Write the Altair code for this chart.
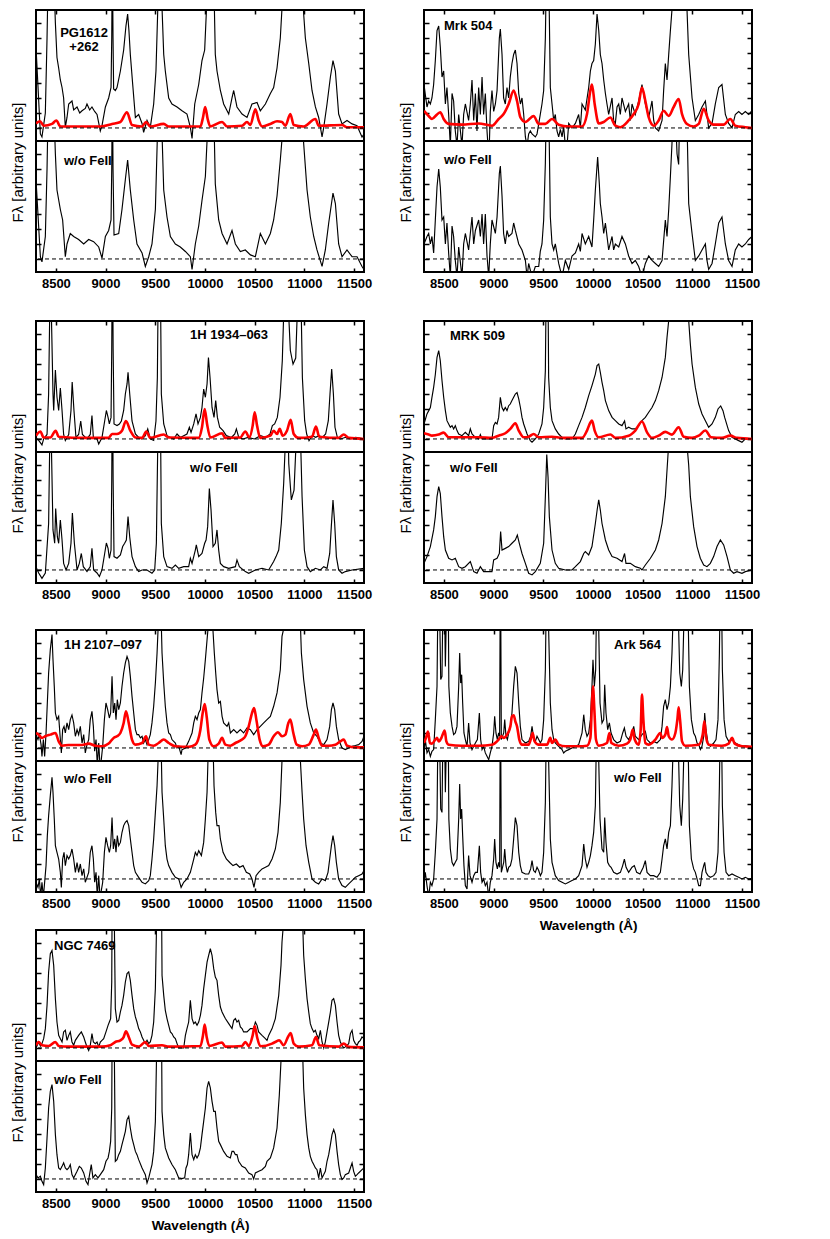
import altair as alt
import pandas as pd

# ---------------- data (wavelength in Angstrom, flux in arbitrary units) ----------------
PG1612_TOP = [(8300,5.4),(8344,-0.4),(8360,-0.6),(8394,1.0),(8411,6.0),(8427,12),(8444,14),(8470,12),(8495,7.0),(8511,4.7),(8528,4.0),(8545,3.2),(8562,2.7),(8578,2.0),(8595,0.05),(8612,0.7),(8629,1.6),(8662,1.8),(8679,1.2),(8713,1.4),(8740,1.0),(8763,1.15),(8796,1.3),(8813,1.6),(8840,1.2),(8863,1.4),(8890,1.1),(8914,0.9),(8947,-0.2),(8964,0.15),(8998,1.4),(9031,2.0),(9055,2.7),(9062,6),(9068,12),(9075,6),(9081,2.6),(9098,2.5),(9115,2.7),(9149,3.8),(9182,5.2),(9205,6.8),(9222,7.6),(9235,6.5),(9249,4.9),(9273,2.9),(9300,0.7),(9333,0.9),(9367,0.3),(9383,-0.3),(9417,0.5),(9450,0.04),(9484,1.6),(9507,3.8),(9525,7.9),(9545,15),(9568,8),(9585,4.9),(9601,3.8),(9635,2.0),(9668,1.6),(9719,1.4),(9769,1.15),(9819,0.93),(9853,0.04),(9870,-0.7),(9897,1.6),(9937,2.9),(9970,4.5),(9997,5.2),(10015,7.9),(10050,14),(10095,7.9),(10104,4.9),(10121,3.8),(10155,2.5),(10188,1.6),(10239,0.93),(10272,2.0),(10289,2.5),(10322,1.4),(10373,0.93),(10423,0.7),(10473,1.6),(10524,1.7),(10557,1.15),(10608,1.6),(10658,2.3),(10691,2.7),(10725,4.0),(10758,6.0),(10775,8),(10850,15),(10940,15),(10993,7.6),(11010,6.0),(11044,4.3),(11077,2.5),(11111,1.4),(11144,0.7),(11178,-0.6),(11195,0.04),(11228,1.6),(11262,3.4),(11288,4.5),(11312,3.8),(11345,0.93),(11379,0.27),(11429,0.5),(11480,0.27),(11530,0.15),(11580,-0.6),(11600,-0.4)]
PG1612_BOT = [(8300,5.3),(8344,0.15),(8360,-0.2),(8394,1.5),(8411,6),(8427,12),(8444,14),(8470,12),(8495,7.0),(8511,4.6),(8545,3.3),(8568,2.6),(8595,0.15),(8612,1.0),(8645,1.7),(8679,1.5),(8729,1.3),(8780,1.0),(8830,1.3),(8880,1.15),(8931,0.8),(8964,0.05),(8998,1.5),(9031,1.9),(9055,2.6),(9062,6),(9068,12),(9075,6),(9085,1.6),(9132,1.7),(9165,3.3),(9199,5.3),(9222,6.6),(9249,4.6),(9283,2.6),(9316,1.0),(9367,0.4),(9400,-0.5),(9434,0.15),(9467,1.0),(9501,3.3),(9520,7.9),(9545,15),(9570,7.9),(9585,4.6),(9618,2.8),(9652,1.5),(9702,1.0),(9752,0.8),(9803,0.5),(9853,0.15),(9870,-0.7),(9903,1.0),(9937,2.2),(9970,3.9),(10004,5.5),(10021,7.9),(10050,14),(10095,7.9),(10104,5.0),(10138,2.6),(10172,1.7),(10222,1.0),(10272,1.9),(10306,1.0),(10356,0.5),(10406,0.6),(10457,0.27),(10507,0.15),(10557,1.7),(10608,1.0),(10658,1.7),(10691,2.6),(10725,4.2),(10758,6.6),(10775,8),(10850,15),(10940,15),(10993,7.7),(11027,4.6),(11060,2.8),(11094,1.5),(11127,0.6),(11178,-0.5),(11211,0.6),(11245,2.4),(11288,4.4),(11312,3.7),(11345,1.0),(11379,0.15),(11429,0.6),(11480,0.15),(11530,0.15),(11580,-0.5),(11600,-0.7)]
PG1612_FE = [(8300,0.3),(8340,0.45),(8377,0.15),(8461,0.27),(8505,0.5),(8545,0.1),(8796,0.1),(8950,0.1),(9065,0.27),(9149,0.4),(9215,1.05),(9266,0.2),(9367,0.1),(9407,0.4),(9450,0.1),(9585,0.27),(9635,0.1),(9954,0.1),(9980,0.7),(10002,1.4),(10027,0.6),(10054,0.1),(10172,0.4),(10222,0.1),(10373,0.15),(10423,0.4),(10457,0.2),(10507,1.25),(10540,0.5),(10574,0.1),(10658,0.27),(10725,0.45),(10775,0.4),(10809,0.15),(10859,0.93),(10893,0.2),(10993,0.1),(11111,0.6),(11144,0.15),(11379,0.2),(11429,0.05),(11600,0.05)]

MRK504_TOP = [(8300,2.9),(8330,1.4),(8347,1.8),(8364,1.6),(8380,2.0),(8397,2.9),(8414,4.5),(8431,6.5),(8448,6.8),(8464,5.4),(8481,3.4),(8498,3.8),(8515,1.6),(8531,2.7),(8548,0.9),(8565,-1.2),(8582,2.3),(8598,1.8),(8615,-0.2),(8632,-1.2),(8649,0.9),(8682,-1.2),(8699,0.9),(8716,1.6),(8749,0.5),(8766,1.6),(8783,3.2),(8800,0.5),(8817,2.3),(8833,-0.2),(8850,2.7),(8867,0.9),(8884,3.4),(8900,0.9),(8917,2.3),(8934,-0.2),(8944,-1.2),(8957,-1.2),(8967,1.1),(8984,2.5),(9001,1.1),(9018,1.6),(9035,2.5),(9058,6.0),(9068,6.6),(9085,4.9),(9101,2.0),(9118,1.6),(9135,2.7),(9152,2.0),(9168,3.4),(9185,4.3),(9202,4.9),(9219,5.2),(9236,4.3),(9253,2.3),(9270,1.6),(9286,2.0),(9303,0.9),(9320,-0.6),(9337,-1.2),(9353,-0.4),(9370,-0.2),(9387,-0.4),(9420,-0.6),(9437,-0.4),(9470,0.9),(9487,1.6),(9504,2.5),(9521,6.0),(9535,12),(9548,12),(9560,7.9),(9571,2.7),(9588,1.6),(9605,0.5),(9621,0.9),(9638,-0.2),(9655,-0.6),(9672,-0.1),(9689,-0.6),(9705,0.1),(9722,-1.2),(9739,-1.2),(9756,0.3),(9789,0.0),(9823,0.3),(9856,0.9),(9873,0.0),(9890,1.6),(9923,1.2),(9957,2.7),(9974,3.8),(9990,4.3),(10007,4.5),(10024,5.6),(10041,7.6),(10058,6.5),(10074,4.9),(10091,4.3),(10108,3.2),(10125,2.3),(10141,1.6),(10158,0.9),(10192,2.0),(10208,0.5),(10225,0.3),(10242,1.4),(10259,1.6),(10275,0.9),(10292,2.0),(10326,1.1),(10359,1.6),(10376,0.5),(10393,1.6),(10426,0.9),(10460,1.8),(10493,2.9),(10527,1.6),(10561,0.7),(10594,1.8),(10611,0.5),(10628,0.0),(10661,-0.2),(10695,0.5),(10711,2.5),(10728,4.3),(10745,3.2),(10762,4.9),(10779,6.5),(10795,7.9),(10830,14),(10900,14),(10946,7.9),(10963,4.9),(10997,2.0),(11030,0.5),(11064,0.9),(11097,1.4),(11131,1.8),(11147,0.9),(11164,0.0),(11198,0.3),(11231,1.6),(11265,2.7),(11298,2.9),(11332,0.9),(11365,0.3),(11399,0.0),(11432,0.9),(11466,1.1),(11499,0.9),(11533,1.1),(11567,0.9),(11600,1.15)]
MRK504_BOT = [(8300,1.0),(8330,1.5),(8347,1.7),(8364,1.0),(8380,1.5),(8397,0.4),(8414,2.6),(8431,4.8),(8448,6.0),(8464,4.8),(8481,2.6),(8498,2.8),(8515,1.0),(8531,2.4),(8548,0.4),(8565,-1.2),(8582,2.2),(8598,1.5),(8615,-0.1),(8632,-1.2),(8649,0.8),(8682,-1.2),(8699,1.0),(8716,1.7),(8749,0.6),(8783,2.8),(8800,1.0),(8817,1.9),(8850,2.6),(8867,1.5),(8884,3.0),(8900,1.0),(8917,3.0),(8934,0.2),(8951,-1.2),(8967,1.0),(8984,2.6),(9018,1.7),(9035,2.8),(9058,5.7),(9068,6.2),(9085,4.2),(9101,1.7),(9118,1.0),(9135,1.9),(9152,1.5),(9185,1.7),(9202,2.4),(9219,1.9),(9253,1.0),(9286,0.6),(9320,-0.1),(9337,-1.2),(9353,-0.3),(9387,-1.2),(9420,-0.5),(9454,-0.5),(9470,0.5),(9487,1.0),(9504,2.6),(9521,6.4),(9535,12),(9548,12),(9560,7.9),(9571,2.8),(9588,1.0),(9605,0.6),(9621,1.0),(9655,-0.3),(9689,-1.2),(9722,-0.1),(9756,-0.7),(9789,0.2),(9823,0.4),(9856,1.0),(9873,0.5),(9890,1.7),(9923,1.0),(9957,1.5),(9990,0.8),(10007,2.6),(10024,4.6),(10047,6.8),(10064,5.0),(10074,3.7),(10091,2.8),(10108,1.7),(10125,2.4),(10158,0.6),(10192,1.5),(10208,0.6),(10225,1.0),(10259,0.8),(10292,1.5),(10326,1.0),(10359,0.2),(10393,-0.3),(10426,-0.1),(10460,-0.5),(10493,-1.2),(10527,-0.3),(10561,0.2),(10594,-0.1),(10628,-0.3),(10661,-0.5),(10695,-0.1),(10728,2.6),(10745,1.5),(10762,3.3),(10779,5.5),(10795,7.7),(10815,12),(10846,7.0),(10862,6.3),(10880,12),(10929,12),(10950,7.9),(10963,3.7),(10997,1.7),(11030,-0.1),(11064,0.2),(11097,0.6),(11131,1.0),(11147,-0.1),(11164,-0.7),(11198,-0.3),(11231,1.0),(11265,2.4),(11298,2.8),(11332,1.0),(11365,-0.1),(11399,-0.5),(11432,0.6),(11466,1.0),(11499,0.8),(11533,1.0),(11567,1.3),(11600,1.5)]
MRK504_FE = [(8300,1.15),(8347,0.8),(8380,0.6),(8431,0.9),(8464,1.05),(8498,0.6),(8548,0.27),(8682,0.22),(8850,0.3),(8984,0.15),(9051,0.6),(9101,0.93),(9152,1.6),(9202,2.5),(9236,1.8),(9270,0.7),(9320,0.4),(9403,0.8),(9454,0.27),(9521,0.27),(9588,0.6),(9655,0.22),(9756,0.1),(9890,0.1),(9940,0.93),(9974,2.5),(9990,2.9),(10017,1.6),(10058,0.3),(10108,0.4),(10175,0.7),(10225,0.15),(10275,0.05),(10359,0.5),(10410,0.93),(10460,1.6),(10493,2.7),(10527,1.8),(10561,0.7),(10611,0.15),(10661,0.5),(10711,1.15),(10762,0.8),(10812,1.4),(10862,1.93),(10896,0.93),(10946,0.27),(11013,0.1),(11064,0.27),(11114,1.27),(11164,0.5),(11214,0.22),(11315,0.22),(11382,0.6),(11432,0.15),(11533,0.05),(11600,0.0)]

H1934_TOP = [(8300,0.1),(8327,-0.1),(8360,-0.4),(8377,0.0),(8411,0.3),(8427,3.0),(8437,7.9),(8446,14),(8456,7.9),(8471,3.0),(8478,1.9),(8495,4.6),(8511,2.8),(8528,1.9),(8545,3.4),(8562,1.9),(8578,0.3),(8595,-0.1),(8612,0.1),(8629,0.3),(8652,1.9),(8664,3.8),(8682,1.9),(8702,0.1),(8729,0.3),(8750,1.2),(8767,0.3),(8813,0.0),(8846,0.3),(8863,1.56),(8877,0.1),(8914,0.0),(8931,-0.33),(8964,0.1),(8991,1.2),(9008,1.9),(9025,1.44),(9038,1.0),(9055,1.44),(9062,6),(9069,14),(9076,6),(9085,1.0),(9115,0.9),(9139,1.0),(9159,1.2),(9182,1.9),(9199,3.0),(9216,3.67),(9226,4.44),(9243,3.0),(9266,1.2),(9300,0.33),(9333,0.1),(9367,0.0),(9400,0.22),(9424,0.67),(9450,0.0),(9484,-0.1),(9507,1.2),(9521,4.1),(9535,14),(9555,7.9),(9561,3.0),(9585,1.0),(9618,0.22),(9652,0.1),(9685,0.0),(9719,0.33),(9752,0.1),(9786,0.22),(9819,0.33),(9843,0.78),(9860,0.44),(9887,1.0),(9910,1.67),(9930,1.0),(9954,1.44),(9970,2.1),(9987,3.33),(10004,2.78),(10021,3.67),(10035,5.44),(10051,4.1),(10071,2.1),(10091,1.44),(10108,2.56),(10125,1.44),(10148,0.78),(10182,0.56),(10215,0.22),(10266,0.1),(10300,0.33),(10316,0.67),(10340,0.1),(10383,0.0),(10433,0.1),(10497,0.0),(10560,0.22),(10611,0.1),(10655,0.33),(10678,0.89),(10701,1.0),(10728,1.44),(10755,2.78),(10778,5.22),(10790,7.9),(10820,14),(10845,7.9),(10859,5.9),(10886,5.0),(10913,5.4),(10926,7.9),(10945,14),(10970,7.9),(10980,4.1),(11003,1.22),(11023,0.33),(11047,-0.11),(11080,0.22),(11114,0.11),(11147,0.22),(11181,0.11),(11214,0.33),(11241,1.22),(11258,3.0),(11275,4.67),(11292,3.0),(11308,0.78),(11332,0.11),(11365,0.0),(11415,0.11),(11466,0.0),(11516,0.11),(11600,0.0)]
H1934_BOT = [(8300,0.2),(8327,-0.2),(8360,-0.56),(8394,-0.2),(8427,3.1),(8437,7.9),(8446,14),(8456,7.9),(8471,2.67),(8488,1.78),(8498,4.1),(8515,2.2),(8528,1.78),(8545,3.33),(8562,2.0),(8578,0.44),(8602,0.0),(8629,0.44),(8652,1.78),(8666,3.8),(8686,1.78),(8713,0.0),(8736,0.44),(8756,1.1),(8776,0.22),(8813,-0.1),(8846,0.22),(8863,1.44),(8880,0.0),(8914,-0.2),(8938,-0.44),(8964,0.0),(8991,1.1),(9008,1.8),(9025,1.44),(9038,0.78),(9055,1.33),(9062,6),(9069,14),(9076,6),(9085,0.89),(9115,0.78),(9149,1.0),(9172,1.56),(9192,1.78),(9209,2.0),(9226,3.56),(9243,2.2),(9266,0.89),(9300,0.22),(9333,-0.1),(9367,0.0),(9417,0.0),(9467,-0.22),(9494,0.0),(9511,1.78),(9524,7.9),(9537,14),(9555,7.9),(9561,3.1),(9585,0.89),(9618,0.22),(9668,0.11),(9702,0.33),(9736,0.11),(9786,0.22),(9836,0.22),(9853,0.78),(9870,0.44),(9903,1.33),(9913,1.67),(9937,0.89),(9970,1.1),(9997,1.78),(10011,2.0),(10027,2.89),(10044,5.44),(10061,4.0),(10081,1.56),(10104,1.78),(10121,2.67),(10138,1.33),(10155,0.44),(10188,0.22),(10239,0.11),(10306,0.22),(10322,0.67),(10346,0.22),(10406,-0.11),(10440,-0.22),(10507,0.0),(10574,0.11),(10641,0.0),(10691,0.56),(10715,0.89),(10742,1.33),(10768,3.1),(10792,5.78),(10805,7.9),(10825,14),(10843,7.1),(10869,4.67),(10896,5.33),(10913,7.9),(10940,14),(10965,7.9),(10977,4.89),(11000,1.33),(11027,0.22),(11060,-0.11),(11111,0.11),(11161,0.0),(11195,0.22),(11228,0.11),(11255,1.1),(11271,2.89),(11288,4.67),(11305,3.1),(11322,0.89),(11345,0.0),(11379,-0.22),(11412,-0.11),(11480,0.0),(11600,0.11)]
H1934_FE = [(8300,0.22),(8344,0.5),(8377,0.1),(8444,0.1),(8498,0.55),(8528,0.15),(8796,0.07),(9031,0.07),(9065,0.33),(9115,0.33),(9165,0.55),(9205,1.2),(9249,0.55),(9300,0.1),(9367,0.07),(9410,0.5),(9450,0.07),(9585,0.3),(9635,0.1),(9937,0.07),(9970,0.78),(9997,2.0),(10021,1.0),(10054,0.1),(10172,0.38),(10205,0.07),(10356,0.1),(10406,0.5),(10447,0.1),(10480,0.89),(10500,1.78),(10524,0.89),(10557,0.07),(10658,0.22),(10691,0.55),(10725,0.33),(10752,0.67),(10782,0.22),(10825,0.55),(10862,1.27),(10893,0.33),(10943,0.07),(11077,0.15),(11117,0.82),(11150,0.15),(11345,0.07),(11396,0.3),(11446,0.07),(11600,0.0)]

MRK509_TOP = [(8300,1.0),(8330,1.67),(8364,2.1),(8380,2.78),(8397,3.44),(8414,4.3),(8431,5.44),(8448,5.9),(8464,5.22),(8481,3.9),(8498,2.78),(8515,1.89),(8531,1.22),(8548,1.0),(8565,0.78),(8582,0.89),(8598,0.67),(8615,0.89),(8632,0.56),(8649,0.33),(8682,0.22),(8716,0.44),(8749,0.22),(8766,0.67),(8783,0.33),(8817,0.11),(8850,0.0),(8867,0.29),(8884,0.0),(8951,0.0),(8984,0.0),(9001,0.89),(9018,1.1),(9035,1.0),(9051,1.44),(9068,2.78),(9085,2.1),(9101,1.89),(9118,2.1),(9135,1.89),(9152,2.22),(9168,2.33),(9185,2.56),(9202,2.78),(9219,3.0),(9236,3.1),(9253,2.67),(9270,2.1),(9286,1.44),(9303,1.0),(9337,0.33),(9370,-0.11),(9387,-0.22),(9420,0.0),(9454,0.33),(9487,1.0),(9504,2.1),(9521,4.56),(9535,14),(9550,7.9),(9554,4.1),(9571,2.1),(9588,1.22),(9621,0.67),(9655,0.33),(9689,0.11),(9722,0.0),(9789,0.0),(9823,0.33),(9856,0.89),(9890,1.44),(9923,2.1),(9957,2.89),(9990,3.56),(10024,4.33),(10041,4.9),(10058,5.0),(10074,4.44),(10091,3.78),(10108,3.22),(10125,2.56),(10158,1.89),(10192,1.44),(10225,1.22),(10259,1.0),(10292,0.89),(10318,1.2),(10332,0.67),(10359,0.78),(10393,0.67),(10426,0.67),(10460,0.89),(10493,1.22),(10527,1.44),(10561,1.78),(10594,2.1),(10628,2.56),(10661,3.22),(10695,4.1),(10728,5.44),(10745,6.78),(10762,7.9),(10850,16),(10963,7.9),(10980,6.3),(10997,5.0),(11030,3.44),(11064,2.33),(11097,1.67),(11131,1.22),(11164,0.78),(11198,1.0),(11231,1.44),(11258,2.0),(11285,2.2),(11308,1.89),(11325,1.44),(11365,0.56),(11399,0.11),(11432,0.0),(11466,-0.11),(11499,-0.22),(11516,-0.11),(11533,0.0),(11600,0.0)]
MRK509_BOT = [(8300,0.44),(8330,0.89),(8364,1.56),(8397,2.67),(8414,3.56),(8431,4.89),(8448,5.56),(8464,5.1),(8481,3.56),(8498,2.22),(8515,1.33),(8548,0.78),(8582,0.67),(8615,0.78),(8649,0.22),(8682,0.11),(8716,0.22),(8766,0.56),(8800,-0.11),(8833,-0.22),(8867,0.22),(8900,-0.11),(8951,-0.11),(8984,-0.11),(9001,0.67),(9035,0.78),(9058,1.1),(9071,2.56),(9085,1.33),(9118,1.44),(9152,1.56),(9185,1.78),(9219,2.0),(9239,2.33),(9259,1.78),(9286,1.1),(9320,0.44),(9353,-0.22),(9387,-0.33),(9420,-0.11),(9470,0.44),(9504,1.78),(9521,4.89),(9535,7.7),(9548,6.2),(9561,3.56),(9588,1.33),(9621,0.44),(9655,0.11),(9722,0.0),(9789,0.0),(9823,0.22),(9873,0.56),(9907,1.1),(9923,1.22),(9957,1.0),(9990,1.56),(10024,3.1),(10044,4.1),(10058,4.67),(10074,4.0),(10091,3.1),(10125,2.0),(10158,1.33),(10192,0.89),(10242,0.78),(10292,0.56),(10318,1.1),(10332,0.44),(10376,0.44),(10426,0.22),(10477,0.11),(10493,0.0),(10527,0.33),(10578,0.78),(10628,1.33),(10661,2.0),(10695,3.1),(10728,4.89),(10755,7.7),(10850,16),(10963,7.0),(10980,4.89),(11013,2.89),(11047,1.56),(11080,0.78),(11114,0.33),(11147,0.22),(11181,0.44),(11214,0.89),(11248,1.56),(11282,2.0),(11315,1.67),(11349,0.89),(11382,0.0),(11415,-0.22),(11449,-0.11),(11499,-0.22),(11533,-0.11),(11600,0.0)]
MRK509_FE = [(8300,0.38),(8347,0.29),(8380,0.22),(8448,0.29),(8498,0.42),(8548,0.11),(8682,0.11),(8850,0.11),(8984,0.07),(9051,0.22),(9118,0.38),(9168,0.67),(9219,1.05),(9253,0.56),(9303,0.11),(9353,0.15),(9403,0.33),(9454,0.11),(9588,0.15),(9689,0.07),(9890,0.07),(9940,0.56),(9974,1.1),(9990,1.22),(10017,0.56),(10058,0.11),(10175,0.3),(10225,0.07),(10359,0.22),(10426,0.56),(10493,1.16),(10544,0.44),(10594,0.07),(10661,0.22),(10728,0.47),(10795,0.29),(10862,0.78),(10913,0.15),(10997,0.07),(11064,0.22),(11131,0.56),(11188,0.11),(11298,0.07),(11382,0.22),(11449,0.07),(11600,0.0)]

H2107_TOP = [(8300,0.89),(8320,0.56),(8334,0.89),(8351,0.22),(8360,-0.56),(8374,0.56),(8387,-0.56),(8401,1.0),(8414,3.0),(8427,5.0),(8444,6.56),(8461,7.56),(8471,5.9),(8484,4.11),(8495,2.33),(8511,1.89),(8528,2.11),(8545,0.56),(8555,-0.33),(8568,1.22),(8582,1.44),(8595,1.0),(8612,1.67),(8629,1.22),(8645,1.89),(8662,2.2),(8679,1.67),(8696,0.78),(8713,1.22),(8729,0.89),(8746,1.44),(8763,0.33),(8780,0.89),(8796,-0.33),(8813,0.22),(8830,0.56),(8846,1.89),(8863,2.44),(8877,1.44),(8890,-0.22),(8904,0.56),(8917,-1.2),(8931,0.33),(8944,-1.2),(8957,-0.78),(8971,0.11),(8988,1.89),(9004,3.0),(9021,2.56),(9038,2.0),(9051,2.33),(9065,4.78),(9078,2.33),(9092,3.0),(9105,1.89),(9118,3.22),(9132,2.56),(9149,3.0),(9165,4.1),(9182,5.0),(9199,5.67),(9216,6.1),(9233,5.78),(9249,4.78),(9266,3.44),(9283,2.33),(9300,1.22),(9316,0.89),(9333,0.89),(9350,0.67),(9367,0.78),(9383,0.33),(9400,0.56),(9417,0.22),(9434,0.56),(9450,0.89),(9467,1.67),(9484,2.78),(9501,4.33),(9518,6.33),(9528,7.9),(9545,14),(9562,7.9),(9568,6.33),(9585,4.33),(9601,2.78),(9618,1.67),(9635,1.0),(9652,0.89),(9668,0.56),(9702,0.33),(9719,0.0),(9736,0.11),(9760,-0.44),(9769,-0.11),(9803,0.0),(9836,0.44),(9870,1.0),(9887,1.67),(9903,2.11),(9920,1.89),(9937,2.33),(9954,2.56),(9970,3.67),(9987,4.67),(10004,5.89),(10021,7.22),(10030,7.9),(10055,14),(10080,7.9),(10094,6.33),(10108,5.0),(10121,3.89),(10138,3.0),(10155,3.1),(10172,2.11),(10188,1.67),(10222,1.44),(10239,1.67),(10256,1.0),(10289,1.22),(10322,1.0),(10356,1.22),(10389,1.0),(10423,1.33),(10457,1.22),(10490,0.89),(10524,1.22),(10557,1.44),(10591,1.67),(10624,1.89),(10658,2.11),(10691,2.78),(10725,3.67),(10758,5.22),(10775,7.44),(10790,7.9),(10850,16),(10940,16),(10962,7.9),(10970,6.33),(10993,4.56),(11027,2.78),(11060,1.67),(11094,1.0),(11127,0.78),(11161,0.33),(11195,0.22),(11228,0.56),(11255,1.44),(11272,2.56),(11288,3.0),(11305,2.56),(11322,1.44),(11345,0.56),(11379,0.0),(11412,-0.11),(11446,0.0),(11480,0.11),(11513,0.16),(11546,0.22),(11580,0.44),(11600,0.78)]
H2107_BOT = [(8300,-0.22),(8320,-0.56),(8334,0.0),(8347,-1.2),(8360,-0.22),(8374,-1.2),(8387,-0.22),(8401,0.89),(8414,2.89),(8427,4.22),(8444,5.56),(8461,6.78),(8471,5.78),(8484,4.0),(8495,2.22),(8511,1.78),(8528,1.33),(8545,0.44),(8555,-0.56),(8568,1.33),(8582,1.78),(8595,0.89),(8612,1.56),(8629,1.33),(8645,1.56),(8662,2.0),(8679,1.33),(8696,0.44),(8713,1.1),(8729,0.44),(8746,1.0),(8763,0.22),(8780,0.67),(8796,-0.22),(8813,0.11),(8830,0.44),(8846,1.78),(8863,2.22),(8877,1.33),(8890,-0.22),(8904,0.44),(8917,-1.2),(8931,0.22),(8944,-1.2),(8957,-0.78),(8971,-0.22),(8988,1.78),(9004,2.78),(9021,2.22),(9038,1.78),(9051,2.22),(9065,4.1),(9078,2.0),(9092,2.67),(9105,1.78),(9118,2.89),(9132,2.22),(9149,2.44),(9165,3.1),(9182,3.56),(9199,3.78),(9216,3.9),(9233,3.56),(9249,2.67),(9266,1.78),(9283,0.89),(9300,0.44),(9333,0.11),(9367,-0.22),(9400,-0.33),(9434,-0.11),(9450,0.22),(9467,1.33),(9484,2.67),(9501,4.44),(9518,6.22),(9528,7.9),(9545,14),(9562,7.9),(9568,5.78),(9585,4.0),(9601,2.22),(9618,1.33),(9635,0.89),(9668,0.44),(9702,0.11),(9736,0.0),(9760,-0.56),(9786,-0.22),(9819,0.0),(9853,0.44),(9887,1.33),(9903,1.78),(9920,1.56),(9937,1.89),(9964,1.56),(9987,2.44),(10004,4.0),(10021,5.78),(10030,7.9),(10055,14),(10085,7.9),(10091,6.22),(10108,4.44),(10121,3.56),(10141,3.56),(10155,2.67),(10182,1.78),(10215,1.33),(10249,1.1),(10282,0.89),(10316,1.0),(10349,0.78),(10383,0.89),(10416,0.44),(10450,0.33),(10473,0.0),(10493,-0.56),(10514,0.22),(10540,0.44),(10574,0.67),(10608,0.78),(10641,0.89),(10675,1.33),(10708,2.0),(10735,3.11),(10758,5.11),(10775,7.9),(10850,16),(10940,16),(10960,7.9),(10977,5.78),(10993,4.0),(11017,2.22),(11044,1.11),(11077,0.0),(11111,-0.22),(11144,-0.33),(11178,0.0),(11211,-0.11),(11238,0.44),(11255,1.33),(11272,2.22),(11288,2.9),(11305,2.22),(11322,1.11),(11345,0.0),(11379,-0.44),(11412,-0.56),(11446,-0.33),(11480,-0.11),(11513,0.11),(11546,0.22),(11580,0.33),(11600,0.56)]
H2107_FE = [(8300,1.0),(8327,0.89),(8360,0.67),(8394,0.78),(8444,0.89),(8495,1.0),(8528,0.44),(8562,0.15),(8629,0.2),(8763,0.2),(8830,0.29),(8897,0.15),(8964,0.11),(9031,0.29),(9081,0.67),(9115,0.78),(9149,1.0),(9182,1.67),(9205,2.44),(9233,1.67),(9266,0.56),(9300,0.22),(9367,0.33),(9407,0.78),(9434,0.22),(9484,0.15),(9534,0.33),(9585,0.56),(9635,0.33),(9702,0.11),(9836,0.07),(9903,0.22),(9954,1.22),(9977,2.33),(9997,2.93),(10017,2.1),(10044,0.56),(10088,0.11),(10138,0.29),(10172,0.67),(10205,0.22),(10255,0.15),(10306,0.33),(10373,0.56),(10406,0.78),(10440,1.44),(10473,2.33),(10494,2.67),(10517,1.89),(10550,0.56),(10584,0.11),(10641,0.22),(10691,0.78),(10735,1.05),(10775,0.78),(10809,0.89),(10839,1.67),(10859,1.9),(10889,1.0),(10923,0.22),(10977,0.11),(11044,0.22),(11094,0.89),(11117,1.22),(11144,0.67),(11178,0.15),(11245,0.15),(11312,0.22),(11362,0.44),(11396,0.56),(11429,0.15),(11513,0.04),(11600,0.04)]

ARK564_TOP = [(8300,-0.33),(8313,0.56),(8330,-0.33),(8347,-0.11),(8364,-0.56),(8380,-0.22),(8397,-0.11),(8414,1.89),(8431,4.11),(8446,14),(8468,4.56),(8481,4.78),(8498,14),(8515,5.44),(8540,14),(8550,4.11),(8565,2.33),(8582,1.44),(8598,0.89),(8615,1.0),(8632,1.44),(8649,4.11),(8659,6.33),(8669,4.33),(8679,4.89),(8689,3.0),(8702,1.0),(8716,0.56),(8733,0.11),(8749,1.67),(8763,0.33),(8783,-0.11),(8800,0.11),(8817,0.33),(8837,0.56),(8857,2.33),(8870,0.56),(8884,-0.11),(8900,0.11),(8917,-0.33),(8934,-0.56),(8951,-0.78),(8967,-0.33),(8984,0.11),(9001,1.0),(9011,2.11),(9024,1.0),(9038,0.56),(9051,1.0),(9061,0.78),(9069,14),(9078,0.56),(9102,1.0),(9112,1.89),(9125,0.78),(9139,0.56),(9152,1.0),(9169,1.44),(9185,2.33),(9202,4.11),(9219,5.44),(9236,5.0),(9253,3.0),(9269,1.44),(9286,0.56),(9320,0.33),(9353,0.44),(9373,0.78),(9387,1.44),(9403,0.67),(9420,0.44),(9437,0.78),(9454,0.56),(9471,0.33),(9487,0.56),(9504,1.89),(9521,5.22),(9538,14),(9554,7.9),(9571,3.0),(9588,1.22),(9605,0.56),(9621,0.33),(9655,0.11),(9689,-0.11),(9705,-0.33),(9722,-0.22),(9756,-0.11),(9789,0.0),(9823,0.11),(9856,0.22),(9890,1.0),(9907,2.22),(9923,1.22),(9940,0.78),(9957,1.0),(9974,1.89),(9990,4.11),(10000,5.89),(10014,4.11),(10027,5.22),(10045,14),(10058,7.9),(10071,3.0),(10091,1.67),(10108,1.89),(10118,4.22),(10131,2.33),(10148,1.22),(10165,1.67),(10182,1.0),(10208,0.56),(10242,0.33),(10276,0.44),(10299,1.0),(10316,1.33),(10333,0.78),(10359,0.56),(10393,1.0),(10410,1.44),(10426,0.78),(10460,0.56),(10493,0.89),(10527,1.11),(10544,0.56),(10577,0.33),(10611,0.44),(10644,0.33),(10678,0.56),(10695,1.44),(10711,2.78),(10728,3.22),(10745,2.56),(10762,3.0),(10779,4.11),(10795,6.33),(10830,14),(10862,7.9),(10873,5.0),(10889,4.11),(10903,5.22),(10935,14),(10960,7.9),(10970,4.11),(10990,1.89),(11013,1.0),(11030,0.78),(11047,0.33),(11064,0.22),(11081,-0.11),(11097,0.11),(11114,0.78),(11124,2.33),(11137,1.22),(11157,0.33),(11181,0.11),(11215,0.33),(11238,0.56),(11258,1.89),(11272,6.33),(11287,14),(11302,5.22),(11319,1.89),(11339,0.78),(11366,0.44),(11399,0.56),(11433,0.33),(11466,0.22),(11500,0.11),(11533,0.15),(11567,0.11),(11600,0.07)]
ARK564_BOT = [(8300,-0.22),(8313,0.44),(8330,-0.44),(8347,-1.2),(8364,-0.22),(8380,-0.44),(8397,0.0),(8414,1.78),(8431,4.0),(8446,14),(8468,4.67),(8481,4.44),(8498,14),(8515,5.78),(8540,14),(8550,4.0),(8565,2.0),(8582,1.11),(8598,0.89),(8615,1.11),(8632,1.33),(8649,4.0),(8659,6.33),(8669,4.0),(8679,4.67),(8689,2.89),(8702,0.89),(8716,-0.44),(8733,-0.67),(8749,1.56),(8763,0.22),(8783,-0.22),(8800,0.22),(8817,0.44),(8837,0.44),(8857,2.22),(8870,0.44),(8884,-0.22),(8900,0.0),(8917,-0.44),(8934,-0.22),(8951,-1.2),(8967,-0.22),(8984,0.22),(9001,1.33),(9011,2.67),(9024,1.11),(9038,0.67),(9051,1.11),(9061,0.78),(9069,14),(9078,0.44),(9102,1.11),(9112,2.0),(9125,0.89),(9139,0.44),(9152,0.78),(9169,0.89),(9185,1.33),(9202,2.67),(9219,4.1),(9236,3.56),(9253,1.78),(9269,0.89),(9286,0.44),(9320,0.33),(9353,0.33),(9373,0.67),(9387,1.22),(9403,0.56),(9420,0.44),(9437,0.78),(9454,0.56),(9471,0.22),(9487,0.44),(9504,1.78),(9521,5.11),(9538,14),(9554,7.9),(9571,2.67),(9588,1.11),(9621,0.22),(9655,-0.11),(9689,-0.22),(9722,-0.33),(9756,-0.22),(9789,-0.11),(9823,0.0),(9856,0.22),(9890,0.89),(9907,2.33),(9923,1.33),(9940,0.78),(9957,1.11),(9974,1.56),(9990,2.22),(10007,3.11),(10024,4.89),(10045,14),(10058,7.9),(10071,4.0),(10091,2.0),(10108,1.78),(10118,4.1),(10131,2.44),(10148,1.11),(10165,0.89),(10182,0.78),(10208,0.44),(10242,0.33),(10276,0.44),(10299,0.89),(10316,1.33),(10333,0.78),(10359,0.44),(10393,0.78),(10416,0.89),(10440,0.44),(10473,0.33),(10506,0.78),(10527,1.22),(10544,0.44),(10577,0.22),(10611,0.22),(10644,0.11),(10678,0.44),(10695,1.33),(10711,2.22),(10728,2.67),(10745,2.0),(10762,3.11),(10779,3.56),(10795,6.22),(10830,14),(10862,7.9),(10873,4.89),(10889,3.56),(10903,5.33),(10935,14),(10960,7.9),(10970,3.56),(10990,1.33),(11013,0.67),(11030,0.44),(11047,0.0),(11064,-0.44),(11081,-0.44),(11097,0.44),(11114,0.89),(11124,1.11),(11137,0.44),(11157,0.22),(11181,0.11),(11215,0.22),(11238,0.44),(11258,1.78),(11272,6.22),(11287,14),(11302,4.89),(11319,1.78),(11339,0.44),(11366,0.22),(11399,0.33),(11433,0.22),(11466,0.11),(11500,0.0),(11533,0.11),(11567,0.0),(11600,0.04)]
ARK564_FE = [(8300,0.33),(8320,0.67),(8340,1.1),(8360,0.33),(8380,0.29),(8414,0.56),(8431,0.67),(8448,0.44),(8475,0.67),(8494,1.0),(8508,1.16),(8525,0.44),(8548,0.22),(8682,0.15),(8850,0.15),(8984,0.22),(9051,0.56),(9078,0.78),(9102,0.67),(9135,0.89),(9169,1.44),(9185,2.11),(9202,2.18),(9219,1.78),(9236,1.44),(9259,0.56),(9286,0.22),(9353,0.22),(9373,0.56),(9393,1.0),(9413,0.44),(9454,0.22),(9538,0.22),(9571,0.67),(9588,0.33),(9621,0.56),(9655,0.22),(9722,0.11),(9856,0.11),(9940,0.15),(9974,0.67),(9990,3.0),(10000,4.11),(10014,2.56),(10030,0.56),(10058,0.15),(10141,0.33),(10165,1.0),(10185,0.33),(10259,0.15),(10343,0.29),(10376,0.56),(10400,1.22),(10420,0.56),(10460,0.22),(10480,1.22),(10493,3.56),(10507,1.89),(10527,0.33),(10561,0.22),(10594,0.33),(10628,0.56),(10678,1.0),(10695,0.67),(10728,0.89),(10745,1.4),(10762,0.78),(10795,0.56),(10829,1.0),(10849,1.89),(10862,2.71),(10876,1.89),(10896,0.44),(10929,0.15),(11064,0.22),(11104,0.89),(11121,1.78),(11137,0.78),(11164,0.22),(11298,0.15),(11365,0.29),(11399,0.67),(11426,0.29),(11500,0.11),(11600,0.07)]

NGC7469_TOP = [(8300,0.51),(8313,0.18),(8327,0.4),(8344,0.13),(8360,0.29),(8377,0.62),(8394,1.29),(8411,2.84),(8427,5.07),(8444,6.29),(8461,6.51),(8478,5.51),(8495,3.29),(8511,1.73),(8528,0.84),(8545,0.62),(8562,0.4),(8578,1.07),(8595,1.18),(8612,0.51),(8629,0.84),(8645,1.07),(8662,0.4),(8679,0.18),(8696,0.51),(8729,0.84),(8756,1.07),(8780,0.73),(8796,0.4),(8813,0.07),(8830,-0.16),(8846,0.18),(8863,0.96),(8877,0.4),(8897,0.29),(8914,0.4),(8931,0.07),(8947,0.4),(8964,0.51),(8981,0.62),(9004,1.07),(9025,1.51),(9038,1.73),(9051,1.96),(9062,4.4),(9069,14),(9078,14),(9089,7.9),(9098,2.62),(9115,1.73),(9132,1.84),(9149,2.4),(9165,2.84),(9182,3.51),(9199,4.4),(9216,4.96),(9233,5.07),(9249,4.51),(9266,3.51),(9283,2.62),(9300,2.07),(9316,1.73),(9333,1.29),(9350,1.07),(9367,0.73),(9383,0.51),(9400,0.29),(9417,0.51),(9434,0.29),(9450,0.4),(9467,0.84),(9484,1.73),(9501,3.96),(9512,7.9),(9540,16),(9565,7.9),(9568,4.84),(9585,3.51),(9601,2.51),(9618,1.96),(9635,1.51),(9652,1.07),(9668,0.96),(9685,0.73),(9702,0.62),(9719,0.29),(9736,0.0),(9769,0.0),(9786,0.0),(9803,0.84),(9819,1.29),(9836,1.73),(9853,3.18),(9870,1.96),(9887,1.62),(9903,1.73),(9920,1.51),(9937,1.73),(9954,2.18),(9970,2.84),(9987,3.96),(10004,4.84),(10021,5.73),(10037,6.18),(10054,6.62),(10071,6.18),(10088,5.29),(10104,4.73),(10121,4.51),(10138,3.51),(10155,2.73),(10172,2.4),(10205,1.96),(10239,1.62),(10272,1.29),(10289,1.84),(10306,1.96),(10322,1.73),(10339,1.84),(10356,1.4),(10373,1.29),(10389,1.07),(10423,1.07),(10457,1.29),(10490,1.29),(10507,1.73),(10524,1.51),(10540,1.07),(10574,0.84),(10608,0.62),(10624,0.51),(10641,0.84),(10675,1.29),(10708,1.96),(10742,3.51),(10765,5.51),(10775,7.07),(10785,7.9),(10850,16),(10940,16),(10985,7.9),(10993,6.18),(11010,4.62),(11027,3.29),(11044,2.4),(11060,1.62),(11077,1.29),(11094,1.07),(11111,1.18),(11127,0.84),(11144,0.62),(11161,1.18),(11178,0.4),(11195,0.0),(11211,0.4),(11228,1.07),(11245,1.73),(11262,2.4),(11278,3.18),(11295,3.29),(11312,2.84),(11329,1.73),(11345,0.84),(11362,0.4),(11379,0.18),(11396,0.0),(11412,0.07),(11446,0.29),(11463,0.96),(11480,1.18),(11496,0.51),(11513,0.29),(11530,0.18),(11546,0.4),(11563,0.51),(11580,0.73),(11600,0.62)]
NGC7469_BOT = [(8300,0.29),(8320,0.07),(8344,0.18),(8360,-0.16),(8377,-0.38),(8394,0.73),(8411,2.73),(8427,4.73),(8444,5.84),(8461,6.29),(8478,5.18),(8495,2.96),(8511,1.62),(8528,0.73),(8545,0.62),(8562,0.84),(8578,1.07),(8595,0.73),(8612,0.62),(8629,0.73),(8645,0.96),(8662,0.29),(8679,0.07),(8713,0.51),(8736,0.84),(8756,0.73),(8780,0.4),(8803,-0.16),(8823,-0.38),(8836,0.18),(8856,0.96),(8873,0.07),(8897,0.29),(8924,0.07),(8947,0.29),(8981,0.62),(9004,1.18),(9025,1.4),(9038,1.84),(9051,2.51),(9062,4.73),(9069,14),(9078,14),(9089,7.9),(9098,1.18),(9115,1.29),(9132,1.62),(9149,1.84),(9165,2.29),(9182,2.73),(9199,3.18),(9216,3.96),(9233,4.18),(9249,3.4),(9266,2.73),(9283,2.29),(9300,1.84),(9316,1.62),(9333,1.29),(9367,0.73),(9383,0.51),(9400,0.29),(9417,-0.27),(9434,0.07),(9450,0.51),(9467,0.96),(9484,1.84),(9501,3.84),(9512,7.9),(9540,16),(9565,7.9),(9568,4.51),(9585,2.96),(9601,2.07),(9635,1.4),(9668,0.96),(9702,0.62),(9736,0.07),(9769,0.02),(9796,0.07),(9809,0.73),(9823,0.96),(9836,1.62),(9853,3.07),(9870,1.62),(9887,1.29),(9903,1.62),(9920,1.4),(9937,1.62),(9954,2.07),(9970,2.96),(9987,3.84),(10004,4.73),(10021,6.07),(10037,6.51),(10054,6.07),(10071,5.18),(10088,4.51),(10104,4.51),(10121,3.4),(10138,2.51),(10155,2.29),(10188,1.84),(10222,1.51),(10255,1.4),(10272,1.84),(10289,1.84),(10306,1.62),(10322,1.62),(10339,1.18),(10373,0.84),(10406,0.73),(10440,0.4),(10473,0.29),(10490,0.0),(10507,0.4),(10541,0.51),(10574,0.62),(10608,0.84),(10624,1.18),(10658,1.4),(10691,2.07),(10725,3.4),(10748,5.6),(10765,7.9),(10850,16),(10940,16),(10985,7.9),(10993,6.07),(11010,4.29),(11027,2.96),(11044,2.07),(11060,1.51),(11077,1.18),(11094,0.96),(11111,0.73),(11127,0.62),(11144,0.07),(11161,0.73),(11178,0.07),(11195,0.29),(11211,0.51),(11228,1.18),(11245,1.62),(11262,2.29),(11278,2.96),(11295,3.29),(11312,2.96),(11329,1.84),(11345,0.96),(11362,0.29),(11379,-0.04),(11396,0.07),(11412,0.29),(11446,0.4),(11463,0.73),(11480,1.07),(11496,0.51),(11513,0.18),(11530,0.29),(11546,0.4),(11580,0.62),(11600,0.73)]
NGC7469_FE = [(8300,0.18),(8327,0.4),(8360,0.18),(8427,0.13),(8495,0.4),(8528,0.13),(8629,0.09),(8964,0.09),(9048,0.18),(9098,0.4),(9149,0.51),(9182,0.73),(9205,1.11),(9233,0.73),(9266,0.22),(9333,0.09),(9400,0.4),(9434,0.13),(9568,0.18),(9635,0.09),(9954,0.13),(9980,0.84),(9997,1.56),(10017,0.73),(10044,0.13),(10172,0.36),(10205,0.09),(10373,0.13),(10406,0.4),(10440,0.13),(10480,0.84),(10500,1.47),(10524,0.73),(10557,0.11),(10675,0.29),(10708,0.4),(10748,0.51),(10792,0.18),(10835,0.73),(10862,1.0),(10893,0.29),(10943,0.09),(11077,0.18),(11117,0.73),(11150,0.18),(11345,0.09),(11396,0.29),(11446,0.07),(11600,0.04)]

XTICKS = [8500, 9000, 9500, 10000, 10500, 11000, 11500]
YTICKS = [0, 1, 2, 3, 4, 5, 6, 7]
ZERO = [0]

# ---------------- style ----------------
FONT = "Liberation Sans"
XDOM = [8300, 11600]
YDOM = [-0.87, 7.87]
W, H = 328, 131
XS = alt.Scale(domain=XDOM, nice=False, zero=False)
YS = alt.Scale(domain=YDOM, nice=False, zero=False)


def frame(pairs):
    return pd.DataFrame(pairs, columns=["wl", "f"])


def subpanel(black, fe=None, label=None, lx=20, ly=16, align="left",
             top=True, xtitle=False, ytitle=False):
    if top:
        xaxis = alt.Axis(orient="top", values=XTICKS, labels=False, domain=False,
                         grid=False, ticks=True, tickSize=4, offset=-4, title="")
    else:
        kw = dict(orient="bottom", values=XTICKS, labels=True, domain=False,
                  grid=False, ticks=True, tickSize=4, offset=-4, format="d",
                  labelPadding=5, labelFontSize=13, labelFontWeight="bold",
                  labelFont=FONT, labelColor="black")
        if xtitle:
            kw.update(title="Wavelength (Å)", titlePadding=8, titleFontSize=13.5,
                      titleFontWeight="bold", titleFont=FONT, titleColor="black")
        else:
            kw.update(title="")
        xaxis = alt.Axis(**kw)

    ykw = dict(orient="left", values=YTICKS, labels=False, domain=False, grid=False,
               ticks=True, tickSize=5, offset=-5)
    if ytitle:
        ykw.update(title="Fλ [arbitrary units]", titleX=-24, titleY=21,
                   titleAngle=270, titleAlign="center", titleBaseline="middle",
                   titleFontSize=15, titleFontWeight="normal", titleFont=FONT,
                   titleColor="black")
    else:
        ykw.update(title="")
    yaxis_left = alt.Axis(**ykw)
    yaxis_right = alt.Axis(orient="right", values=YTICKS, labels=False, domain=False,
                           grid=False, ticks=True, tickSize=5, offset=-5, title="")

    layers = []
    layers.append(
        alt.Chart(frame(black)).mark_line(color="black", strokeWidth=1.15, clip=True)
        .encode(x=alt.X("wl:Q", scale=XS, axis=xaxis),
                y=alt.Y("f:Q", scale=YS, axis=yaxis_left))
    )
    if fe is not None:
        layers.append(
            alt.Chart(frame(fe)).mark_line(color="#ff0000", strokeWidth=2.6, clip=True,
                                           interpolate="monotone")
            .encode(x=alt.X("wl:Q", scale=XS, axis=None),
                    y=alt.Y("f:Q", scale=YS, axis=None))
        )
    layers.append(
        alt.Chart(pd.DataFrame({"z": ZERO})).mark_rule(color="black", strokeWidth=1,
                                                      strokeDash=[4, 3])
        .encode(y=alt.Y("z:Q", scale=YS, axis=yaxis_right))
    )
    if label is not None:
        layers.append(
            alt.Chart(pd.DataFrame({"k": [0]})).mark_text(
                text=label, align=align, baseline="middle", font=FONT,
                fontWeight="bold", fontSize=13, lineHeight=14, color="black")
            .encode(x=alt.value(lx), y=alt.value(ly))
        )
    return (alt.layer(*layers)
            .resolve_axis(x="independent", y="independent")
            .properties(width=W, height=H))


def spacer(h):
    return (alt.Chart(pd.DataFrame({"k": [0]})).mark_point(opacity=0)
            .encode(x=alt.value(0), y=alt.value(0))
            .properties(width=W, height=h,
                        view=alt.ViewBackground(stroke="transparent")))


WO = "w/o FeII"
cells = [
    subpanel(PG1612_TOP, PG1612_FE, ["PG1612", "+262"], 48, 23, "center", top=True),
    subpanel(MRK504_TOP, MRK504_FE, "Mrk 504", 20, 16, top=True),
    subpanel(PG1612_BOT, None, WO, 28, 20, top=False, ytitle=True),
    subpanel(MRK504_BOT, None, WO, 20, 19, top=False, ytitle=True),
    spacer(49), spacer(49),
    subpanel(H1934_TOP, H1934_FE, "1H 1934–063", 154, 14, top=True),
    subpanel(MRK509_TOP, MRK509_FE, "MRK 509", 26, 15, top=True),
    subpanel(H1934_BOT, None, WO, 154, 16, top=False, ytitle=True),
    subpanel(MRK509_BOT, None, WO, 26, 16, top=False, ytitle=True),
    spacer(47), spacer(47),
    subpanel(H2107_TOP, H2107_FE, "1H 2107–097", 28, 15, top=True),
    subpanel(ARK564_TOP, ARK564_FE, "Ark 564", 190, 15, top=True),
    subpanel(H2107_BOT, None, WO, 28, 18, top=False, ytitle=True),
    subpanel(ARK564_BOT, None, WO, 190, 17, top=False, ytitle=True, xtitle=True),
    spacer(38), spacer(38),
    subpanel(NGC7469_TOP, NGC7469_FE, "NGC 7469", 18, 16, top=True),
    spacer(H),
    subpanel(NGC7469_BOT, None, WO, 18, 19, top=False, ytitle=True, xtitle=True),
]

chart = (
    alt.concat(*cells, columns=2, spacing={"row": 0, "column": 60}, bounds="flush")
    .properties(padding={"left": 0, "top": 0, "right": 4, "bottom": 4})
    .configure_view(stroke="black", strokeWidth=2)
    .configure_axis(tickColor="black", tickWidth=1.5, labelFont=FONT, titleFont=FONT)
)

chart.save("out.html", embed_options={"renderer": "svg", "actions": False})
